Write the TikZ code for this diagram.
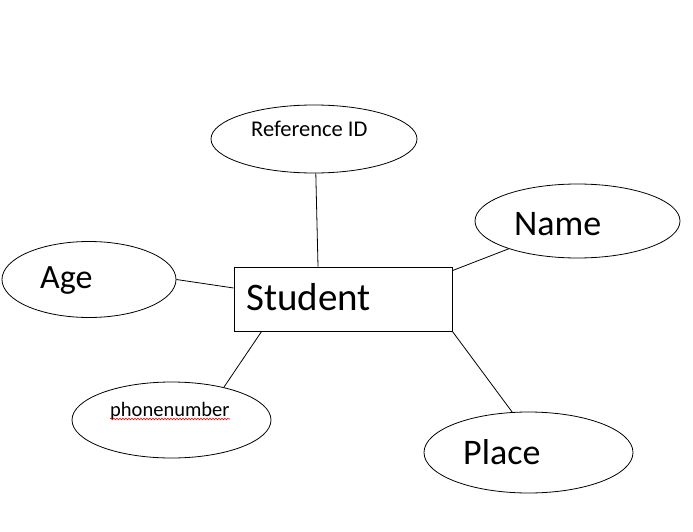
\documentclass[tikz,border=0pt]{standalone}
\usepackage{fontspec}
\setmainfont{Carlito}
\usetikzlibrary{positioning,shapes.geometric,decorations.pathmorphing}

\begin{document}
\begin{tikzpicture}[x=1pt,y=-1pt]
	\tikzset{
		attr/.style={ellipse, draw=black, line width=0.8pt, inner sep=0pt},
		ent/.style={rectangle, draw=black, line width=0.8pt, inner sep=0pt},
		lbl/.style={anchor=base west, inner sep=0pt},
		ln/.style={draw=black, line width=0.8pt}
	}
	\useasboundingbox (0,0) rectangle (693,532);

	% ======= Entity and attributes =======
	\node[ent, minimum width=218pt, minimum height=64pt] (student) at (343,299) {};
	\node[attr, minimum width=206pt, minimum height=68pt] (refid) at (314,139) {};
	\node[attr, minimum width=205pt, minimum height=74pt] (name) at (577.5,221) {};
	\node[attr, minimum width=174pt, minimum height=76pt] (age) at (89,279.5) {};
	\node[attr, minimum width=199pt, minimum height=76pt] (phone) at (171.5,420) {};
	\node[attr, minimum width=209pt, minimum height=81pt] (place) at (528.5,452.5) {};

	% ======= Texts =======
	\node[lbl, font=\fontsize{39}{42}\selectfont] (studenttxt) at (246,310) {Student};
	\node[lbl, font=\fontsize{22.5}{26}\selectfont] (refidtxt) at (251,136) {Reference ID};
	\node[lbl, font=\fontsize{36}{40}\selectfont] (nametxt) at (514,235) {Name};
	\node[lbl, font=\fontsize{34}{38}\selectfont] (agetxt) at (40,288) {Age};
	\node[lbl, font=\fontsize{20.5}{24}\selectfont] (phonetxt) at (110,416) {phonenumber};
	\node[lbl, font=\fontsize{36}{40}\selectfont] (placetxt) at (463,464) {Place};
	\draw[red, line width=0.6pt, decorate, decoration={snake, amplitude=0.8pt, segment length=3pt}]
		([yshift=-3pt]phonetxt.base west) -- ([yshift=-3pt]phonetxt.base east);

	% ======= Connectors =======
	\draw[ln] (refid.-87) -- ([xshift=-25pt]student.north);
	\draw[ln] ([yshift=-4pt]student.north east) -- (name.202);
	\draw[ln] (age.east) -- ([yshift=11pt]student.west);
	\draw[ln] ([xshift=28pt]student.south west) -- (phone.32);
	\draw[ln] (student.south east) -- (place.112);
\end{tikzpicture}
\end{document}
